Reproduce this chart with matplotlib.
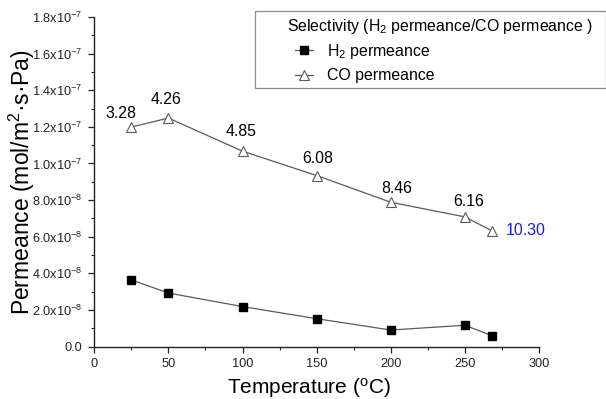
import matplotlib
matplotlib.use("Agg")
import matplotlib.pyplot as plt
from matplotlib.patches import Rectangle
from matplotlib.ticker import MultipleLocator, FixedLocator, FixedFormatter

plt.rcParams['font.family'] = ['Liberation Sans', 'DejaVu Sans']
plt.rcParams['mathtext.fontset'] = 'custom'
plt.rcParams['mathtext.rm'] = 'Liberation Sans'
plt.rcParams['mathtext.it'] = 'Liberation Sans:italic'
plt.rcParams['mathtext.bf'] = 'Liberation Sans:bold'

# ---------------- data ----------------
temperature = [25, 50, 100, 150, 200, 250, 268]
h2_permeance = [3.64e-8, 2.92e-8, 2.18e-8, 1.52e-8, 9.0e-9, 1.16e-8, 6.0e-9]
co_permeance = [1.199e-7, 1.248e-7, 1.067e-7, 9.34e-8, 7.88e-8, 7.08e-8, 6.33e-8]
selectivity = ["3.28", "4.26", "4.85", "6.08", "8.46", "6.16", "10.30"]

x_ticks = [0, 50, 100, 150, 200, 250, 300]
y_tick_values = [0.0, 2e-8, 4e-8, 6e-8, 8e-8, 1.0e-7, 1.2e-7, 1.4e-7, 1.6e-7, 1.8e-7]
y_tick_labels = ["0.0", "2.0x10$^{-8}$", "4.0x10$^{-8}$", "6.0x10$^{-8}$", "8.0x10$^{-8}$",
                 "1.0x10$^{-7}$", "1.2x10$^{-7}$", "1.4x10$^{-7}$", "1.6x10$^{-7}$", "1.8x10$^{-7}$"]

# ---------------- style ----------------
W, H = 606, 399
fig = plt.figure(figsize=(W / 100, H / 100), dpi=100)
ax = fig.add_axes([94.3 / W, 1 - 346.5 / H, (539 - 94.3) / W, (346.5 - 17) / H])

line_color = '#5a5a5a'
h2_line, = ax.plot(temperature, h2_permeance, color=line_color, lw=0.9,
                   marker='s', ms=5.2, mfc='black', mec='black', label='H$_2$ permeance')
co_line, = ax.plot(temperature, co_permeance, color=line_color, lw=0.9,
                   marker='^', ms=6.5, mfc='white', mec=line_color, mew=0.8,
                   label='CO permeance')

# selectivity annotations (offsets in pixels)
label_offsets = [(-10, 14), (-2.5, 19), (-1, 20), (1, 17), (6, 14), (4, 15), (14, 0)]
label_colors = ['black'] * 6 + ['#1a1aff']
for i, (t, v, s) in enumerate(zip(temperature, co_permeance, selectivity)):
    dx, dy = label_offsets[i]
    ha = 'left' if i == len(selectivity) - 1 else 'center'
    ax.annotate(s, (t, v), xytext=(dx, dy), textcoords='offset pixels',
                ha=ha, va='center', fontsize=11.4, color=label_colors[i])

ax.set_xlim(0, 300)
ax.set_ylim(0, 1.8e-7)
ax.xaxis.set_major_locator(FixedLocator(x_ticks))
ax.xaxis.set_minor_locator(MultipleLocator(25))
ax.yaxis.set_major_locator(FixedLocator(y_tick_values))
ax.yaxis.set_major_formatter(FixedFormatter(y_tick_labels))
ax.yaxis.set_minor_locator(MultipleLocator(1e-8))

for s in ['top', 'right']:
    ax.spines[s].set_visible(False)
for s in ['left', 'bottom']:
    ax.spines[s].set_linewidth(1.0)
    ax.spines[s].set_color('#222222')

ax.tick_params(which='major', direction='out', length=4.5, width=0.9, labelsize=9.2,
               colors='#222222')
ax.tick_params(which='minor', direction='out', length=2.5, width=0.8, colors='#222222')
ax.tick_params(axis='y', pad=4)
ax.tick_params(axis='x', pad=3.5)

ax.set_xlabel('Temperature ($^{\\rm o}$C)', fontsize=15)
ax.set_ylabel('Permeance (mol/m$^2$·s·Pa)', fontsize=16.5)
ax.xaxis.label.set_va('center')
ax.yaxis.label.set_va('center')
ax.xaxis.set_label_coords((309 - 94.3) / 444.7, (346.5 - 388) / 329.5)
ax.yaxis.set_label_coords((22 - 94.3) / 444.7, 0.5)

# legend box
fig.patches.append(Rectangle((255 / W, 1 - 88 / H), (605.5 - 255) / W, 77 / H,
                             transform=fig.transFigure, fill=False,
                             edgecolor='#8a8a8a', lw=0.9))
fig.text(287 / W, 1 - 26 / H, 'Selectivity (H$_2$ permeance/CO permeance )',
         ha='left', va='center', fontsize=11.4)
fig.legend(handles=[h2_line, co_line], loc='upper left',
           bbox_to_anchor=(295 / W, 1 - 42 / H), bbox_transform=fig.transFigure,
           frameon=False, borderpad=0, borderaxespad=0, handlelength=1.15,
           handletextpad=0.9, labelspacing=0.45, fontsize=11.4, numpoints=1)

fig.savefig('out.png', dpi=100)
